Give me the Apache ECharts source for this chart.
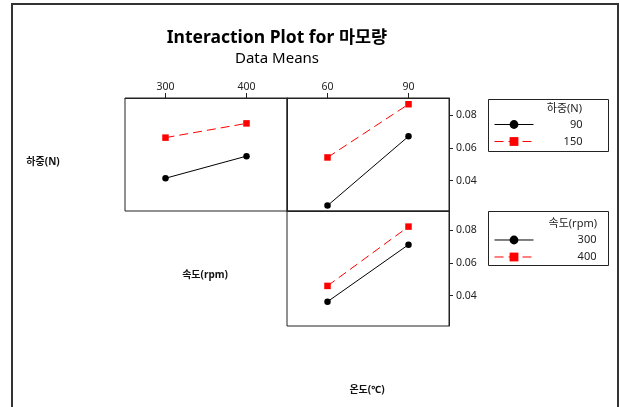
<!DOCTYPE html>
<html>
<head>
<meta charset="utf-8">
<script src="https://cdn.jsdelivr.net/npm/echarts@6/dist/echarts.min.js"></script>
<style>
  html, body { margin: 0; padding: 0; background: #fff; }
  #chart { width: 620px; height: 407px; }
</style>
</head>
<body>
<div id="chart"></div>
<script>
// Factor levels
const speedLevels = ['300', '400'];      // 속도(rpm)
const tempLevels = ['60', '90'];         // 온도(℃)
const loadLevels = ['90', '150'];        // 하중(N)

// Mean wear (마모량) for each factor pair
const loadBySpeed90 = [0.0415, 0.0550];
const loadBySpeed150 = [0.0663, 0.0750];
const loadByTemp90 = [0.0248, 0.0671];
const loadByTemp150 = [0.0542, 0.0867];
const speedByTemp300 = [0.0363, 0.0710];
const speedByTemp400 = [0.0459, 0.0820];

// Y tick values
const yTicks = [0.04, 0.06, 0.08];

const FONT = "'Noto Sans', 'Noto Sans CJK KR', sans-serif";
const chart = echarts.init(document.getElementById('chart'), null, { renderer: 'canvas' });

function xAxisCfg(idx, cats, showTop) {
  return {
    type: 'category', gridIndex: idx, data: cats, boundaryGap: true,
    position: 'top',
    axisLine: { show: true, lineStyle: { color: '#222', width: 1 } },
    axisTick: { show: showTop, alignWithLabel: true, length: 5, inside: false, lineStyle: { color: '#222' } },
    axisLabel: { show: showTop, margin: 6, color: '#222', fontSize: 10.5, fontFamily: FONT },
    splitLine: { show: false }
  };
}
function yAxisCfg(idx, min, max, showRight) {
  return {
    type: 'value', gridIndex: idx, min: min, max: max, position: 'right',
    axisLine: { show: true, lineStyle: { color: '#222', width: 1 } },
    axisTick: { show: showRight, length: 4, customValues: yTicks, lineStyle: { color: '#222' } },
    axisLabel: { show: showRight, margin: 7, customValues: yTicks, color: '#222', fontSize: 10.5, fontFamily: FONT,
      formatter: v => v.toFixed(2) },
    splitLine: { show: false }
  };
}

const blackLine = { color: '#000', width: 1, type: 'solid' };
const redLine = { color: '#ff0000', width: 1, type: [9, 5] };
function seriesCfg(name, idx, data, isRed) {
  return {
    name: name, type: 'line', xAxisIndex: idx, yAxisIndex: idx, data: data,
    symbol: isRed ? 'rect' : 'circle', symbolSize: 6.5,
    lineStyle: isRed ? redLine : blackLine,
    itemStyle: { color: isRed ? '#ff0000' : '#000' },
    emphasis: { disabled: true }, animation: false
  };
}

function legendCfg(names, top, textWidth) {
  return {
    data: names, orient: 'vertical', left: 494, top: top,
    itemWidth: 39, itemHeight: 11, itemGap: 6, padding: 0,
    lineStyle: { width: 1 },
    formatter: '{v|{name}}',
    textStyle: { color: '#222', fontFamily: FONT, fontSize: 11,
      rich: { v: { width: textWidth, align: 'right', fontSize: 11, fontFamily: FONT, color: '#222' } } },
    selectedMode: false
  };
}

const option = {
  backgroundColor: '#fff',
  animation: false,
  title: [
    { text: 'Interaction Plot for 마모량', left: 272, top: 24, textAlign: 'center',
      textStyle: { fontFamily: FONT, fontSize: 17.5, fontWeight: 'bold', color: '#000' } },
    { text: 'Data Means', left: 272, top: 46, textAlign: 'center',
      textStyle: { fontFamily: FONT, fontSize: 15, fontWeight: 'normal', color: '#000' } }
  ],
  grid: [
    { left: 125, top: 98, width: 162, height: 113, show: true, borderColor: '#222', borderWidth: 1, backgroundColor: 'transparent' },
    { left: 287, top: 98, width: 162, height: 113, show: true, borderColor: '#222', borderWidth: 1, backgroundColor: 'transparent' },
    { left: 287, top: 211, width: 162, height: 115, show: true, borderColor: '#222', borderWidth: 1, backgroundColor: 'transparent' }
  ],
  xAxis: [
    xAxisCfg(0, speedLevels, true),
    xAxisCfg(1, tempLevels, true),
    xAxisCfg(2, tempLevels, false)
  ],
  yAxis: [
    yAxisCfg(0, 0.0215, 0.0905, false),
    yAxisCfg(1, 0.0215, 0.0905, true),
    yAxisCfg(2, 0.0215, 0.0915, true)
  ],
  legend: [
    legendCfg(loadLevels, 119, 44),
    legendCfg(['300', '400'], 234.5, 58)
  ],
  series: [
    seriesCfg(loadLevels[0], 0, loadBySpeed90, false),
    seriesCfg(loadLevels[1], 0, loadBySpeed150, true),
    seriesCfg(loadLevels[0], 1, loadByTemp90, false),
    seriesCfg(loadLevels[1], 1, loadByTemp150, true),
    seriesCfg(speedLevels[0], 2, speedByTemp300, false),
    seriesCfg(speedLevels[1], 2, speedByTemp400, true)
  ],
  graphic: [
    // outer frame
    { type: 'polyline', silent: true, shape: { points: [[12, 407], [12, 4], [618, 4], [618, 407]] },
      style: { stroke: '#333', lineWidth: 2, fill: null } },
    // legend boxes
    { type: 'rect', silent: true, shape: { x: 488.5, y: 99.5, width: 120, height: 52 },
      style: { stroke: '#222', lineWidth: 1, fill: null } },
    { type: 'rect', silent: true, shape: { x: 488.5, y: 211.5, width: 120, height: 54 },
      style: { stroke: '#222', lineWidth: 1, fill: null } },
    // legend titles
    { type: 'text', silent: true, style: { text: '하중(N)', x: 582, y: 109, align: 'right', verticalAlign: 'middle',
      font: '11px ' + FONT, fill: '#222' } },
    { type: 'text', silent: true, style: { text: '속도(rpm)', x: 597, y: 224, align: 'right', verticalAlign: 'middle',
      font: '11px ' + FONT, fill: '#222' } },
    // factor names
    { type: 'text', silent: true, style: { text: '하중(N)', x: 43, y: 162, align: 'center', verticalAlign: 'middle',
      font: 'bold 10px ' + FONT, fill: '#111' } },
    { type: 'text', silent: true, style: { text: '속도(rpm)', x: 205, y: 275, align: 'center', verticalAlign: 'middle',
      font: 'bold 10px ' + FONT, fill: '#111' } },
    { type: 'text', silent: true, style: { text: '온도(℃)', x: 367, y: 390, align: 'center', verticalAlign: 'middle',
      font: 'bold 10px ' + FONT, fill: '#111' } }
  ]
};

chart.setOption(option);
</script>
</body>
</html>
